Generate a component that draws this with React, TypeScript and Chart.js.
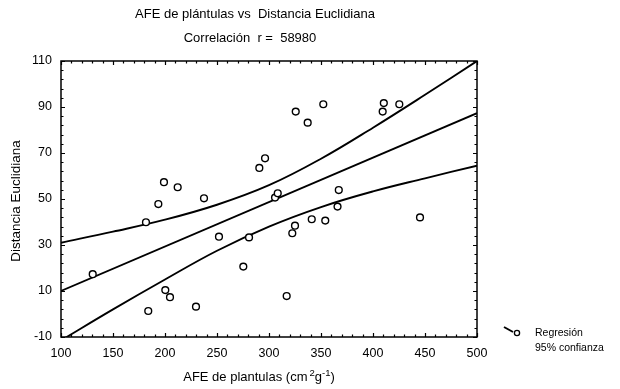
import React, { useEffect, useRef } from 'react';
import { Chart, registerables } from 'chart.js';

Chart.register(...registerables);

const titleLines = ['AFE de plántulas vs  Distancia Euclidiana', 'Correlación  r =  58980'];
const yAxisTitle = 'Distancia Euclidiana';
const xAxisTitleMain = 'AFE de plantulas (cm';
const legendLabels = ['Regresión', '95% confianza'];

// Scatter data: AFE de plántulas (x) vs Distancia Euclidiana (y)
const afeValues = [
  130.5, 181.7, 183.9, 193.6, 199.0, 200.3, 204.8, 212.2, 229.8, 237.5,
  251.9, 275.3, 280.8, 290.7, 296.2, 305.8, 308.4, 317.0, 322.4, 325.0,
  325.7, 337.2, 341.1, 352.2, 354.1, 365.9, 367.1, 409.3, 410.4, 425.3, 445.2,
];
const distValues = [
  17.3, 39.9, 1.3, 47.8, 57.3, 10.4, 7.3, 55.1, 3.2, 50.3,
  33.6, 20.6, 33.3, 63.5, 67.7, 50.6, 52.5, 7.8, 35.1, 38.4,
  88.0, 83.2, 41.2, 91.2, 40.6, 46.7, 53.9, 88.0, 91.7, 91.2, 42.0,
];

// Regression line
const fitX = [100, 500];
const fitY = [10, 87.3];

// 95% confidence bands
const bandX = [100, 150, 200, 250, 300, 350, 400, 450, 500];
const upperBand = [31, 35.8, 41, 47.5, 56, 67.5, 81, 95.3, 110];
const lowerBand = [-11.5, 2, 15, 27.5, 38, 46.5, 53.3, 59, 64.5];

const FONT = '"Liberation Sans", Arial, Helvetica, sans-serif';

const textPlugin = {
  id: 'textPlugin',
  afterDraw(chart: any) {
    const ctx = chart.ctx as CanvasRenderingContext2D;
    const { left, right, top, bottom } = chart.chartArea;
    const xs = chart.scales.x;
    const ys = chart.scales.y;
    ctx.save();
    // frame
    ctx.strokeStyle = '#000';
    ctx.lineWidth = 1.5;
    ctx.strokeRect(left, top, right - left, bottom - top);
    // ticks (inward)
    ctx.lineWidth = 1.2;
    for (let v = 100; v <= 500; v += 10) {
      const px = Math.round(xs.getPixelForValue(v)) + 0.5;
      const len = v % 50 === 0 ? 4 : 2.5;
      ctx.beginPath();
      ctx.moveTo(px, bottom);
      ctx.lineTo(px, bottom - len);
      ctx.moveTo(px, top);
      ctx.lineTo(px, top + len);
      ctx.stroke();
    }
    for (let v = -10; v <= 110; v += 4) {
      const py = Math.round(ys.getPixelForValue(v)) + 0.5;
      const len = (v + 10) % 20 === 0 ? 4 : 2.5;
      ctx.beginPath();
      ctx.moveTo(left, py);
      ctx.lineTo(left + len, py);
      ctx.moveTo(right, py);
      ctx.lineTo(right - len, py);
      ctx.stroke();
    }

    ctx.fillStyle = '#000';
    ctx.textBaseline = 'middle';
    ctx.textAlign = 'center';
    ctx.font = `13px ${FONT}`;
    ctx.fillText(titleLines[0], 255, 14);
    ctx.fillText(titleLines[1], 250, 38);

    // y axis title
    ctx.save();
    ctx.translate(16, 201);
    ctx.rotate(-Math.PI / 2);
    ctx.font = `13.5px ${FONT}`;
    ctx.fillText(yAxisTitle, 0, 0);
    ctx.restore();

    // x axis title with superscripts
    ctx.textAlign = 'left';
    ctx.font = `13px ${FONT}`;
    const mainW = ctx.measureText(xAxisTitleMain).width;
    ctx.font = `9.5px ${FONT}`;
    const s2 = ctx.measureText('2').width;
    const sm1 = ctx.measureText('-1').width;
    ctx.font = `13px ${FONT}`;
    const gW = ctx.measureText('g').width;
    const cW = ctx.measureText(')').width;
    const total = mainW + 2 + s2 + gW + sm1 + cW;
    let x0 = 259 - total / 2;
    const yT = 377;
    ctx.fillText(xAxisTitleMain, x0, yT);
    x0 += mainW + 2;
    ctx.font = `9.5px ${FONT}`;
    ctx.fillText('2', x0, yT - 4);
    x0 += s2;
    ctx.font = `13px ${FONT}`;
    ctx.fillText('g', x0, yT);
    x0 += gW;
    ctx.font = `9.5px ${FONT}`;
    ctx.fillText('-1', x0, yT - 4);
    x0 += sm1;
    ctx.font = `13px ${FONT}`;
    ctx.fillText(')', x0, yT);

    // legend
    ctx.lineWidth = 2;
    ctx.beginPath();
    ctx.moveTo(504, 327);
    ctx.lineTo(513, 332);
    ctx.stroke();
    ctx.lineWidth = 1.3;
    ctx.beginPath();
    ctx.arc(517, 333, 2.6, 0, Math.PI * 2);
    ctx.fillStyle = '#fff';
    ctx.fill();
    ctx.stroke();
    ctx.fillStyle = '#000';
    ctx.font = `10.5px ${FONT}`;
    ctx.fillText(legendLabels[0], 535, 333);
    ctx.fillText(legendLabels[1], 535, 348);
    ctx.restore();
  },
};

export default function App() {
  const canvasRef = useRef<HTMLCanvasElement | null>(null);

  useEffect(() => {
    const canvas = canvasRef.current;
    if (!canvas) return;
    const lineStyle = {
      borderColor: '#000',
      borderWidth: 1.9,
      pointRadius: 0,
      fill: false,
      clip: 0,
    };
    const chart = new Chart(canvas, {
      type: 'scatter',
      data: {
        datasets: [
          {
            type: 'scatter',
            data: afeValues.map((x, i) => ({ x, y: distValues[i] })),
            pointRadius: 3.4,
            pointBackgroundColor: '#fff',
            pointBorderColor: '#000',
            pointBorderWidth: 1.4,
            order: 0,
          } as any,
          {
            type: 'line',
            data: fitX.map((x, i) => ({ x, y: fitY[i] })),
            ...lineStyle,
            order: 1,
          } as any,
          {
            type: 'line',
            data: bandX.map((x, i) => ({ x, y: upperBand[i] })),
            ...lineStyle,
            tension: 0.4,
            order: 1,
          } as any,
          {
            type: 'line',
            data: bandX.map((x, i) => ({ x, y: lowerBand[i] })),
            ...lineStyle,
            tension: 0.4,
            order: 1,
          } as any,
        ],
      },
      options: {
        responsive: false,
        animation: false,
        events: [],
        layout: { padding: { left: 0, top: 61, right: 143, bottom: 0 } },
        plugins: { legend: { display: false }, tooltip: { enabled: false }, title: { display: false } },
        scales: {
          x: {
            type: 'linear',
            min: 100,
            max: 500,
            afterFit: (s: any) => { s.height = 52; },
            ticks: { stepSize: 50, color: '#000', font: { family: FONT, size: 12.5 }, padding: 1, maxRotation: 0 },
            grid: { display: false },
            border: { display: false },
          },
          y: {
            type: 'linear',
            min: -10,
            max: 110,
            afterFit: (s: any) => { s.width = 61; },
            ticks: { stepSize: 20, color: '#000', font: { family: FONT, size: 12.5 }, padding: 1 },
            grid: { display: false },
            border: { display: false },
          },
        },
      } as any,
      plugins: [textPlugin],
    });
    return () => chart.destroy();
  }, []);

  return (
    <div style={{ position: 'fixed', left: 0, top: 0, width: 620, height: 389, background: '#fff' }}>
      <canvas ref={canvasRef} width={620} height={389} style={{ display: 'block' }} />
    </div>
  );
}
